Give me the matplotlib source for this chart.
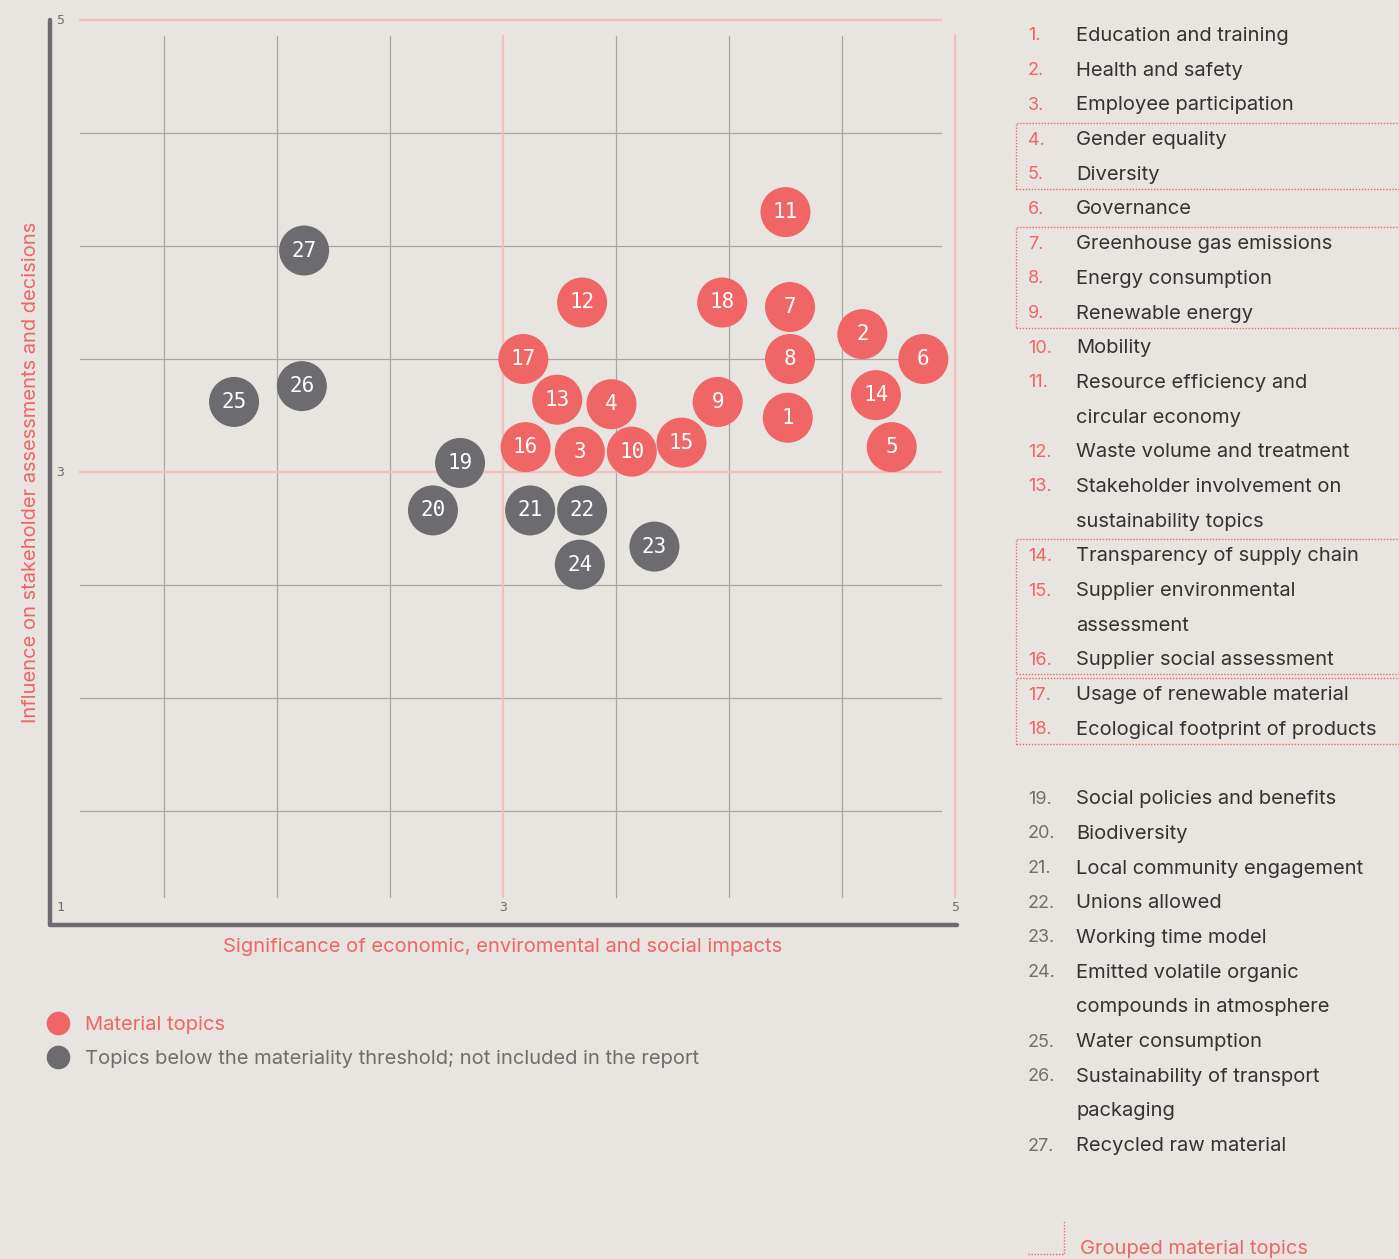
import matplotlib.pyplot as plt
from matplotlib.lines import Line2D
from matplotlib.patches import Rectangle

# topic data
ids = [1, 2, 3, 4, 5, 6, 7, 8, 9, 10, 11, 12, 13, 14, 15, 16, 17, 18,
       19, 20, 21, 22, 23, 24, 25, 26, 27]
significance = [4.26, 4.59, 3.34, 3.48, 4.72, 4.86, 4.27, 4.27, 3.95, 3.57, 4.25, 3.35, 3.24, 4.65, 3.79, 3.10, 3.09, 3.97,
                2.81, 2.69, 3.12, 3.35, 3.67, 3.34, 1.81, 2.11, 2.12]
influence = [3.24, 3.61, 3.09, 3.30, 3.11, 3.50, 3.73, 3.50, 3.31, 3.09, 4.15, 3.75, 3.32, 3.34, 3.13, 3.11, 3.50, 3.75,
             3.04, 2.83, 2.83, 2.83, 2.67, 2.59, 3.31, 3.38, 3.98]
material = [True] * 18 + [False] * 9

topics = ["Education and training", "Health and safety", "Employee participation", "Gender equality",
          "Diversity", "Governance", "Greenhouse gas emissions", "Energy consumption", "Renewable energy",
          "Mobility", "Resource efficiency and\ncircular economy", "Waste volume and treatment",
          "Stakeholder involvement on\nsustainability topics", "Transparency of supply chain",
          "Supplier environmental\nassessment", "Supplier social assessment", "Usage of renewable material",
          "Ecological footprint of products", "Social policies and benefits", "Biodiversity",
          "Local community engagement", "Unions allowed", "Working time model",
          "Emitted volatile organic\ncompounds in atmosphere", "Water consumption",
          "Sustainability of transport\npackaging", "Recycled raw material"]
groups = [(4, 5), (7, 9), (14, 16), (17, 18)]

BG = '#E8E4DF'
RED = '#F06565'
GREY = '#6C6C70'
PINK = '#F6BDBD'
GRID = '#A9A7A4'
TEXT = '#333333'
SANS = ['Inter', 'DejaVu Sans']
MONO = ['DejaVu Sans Mono']
FS = 14.5

W, H = 1399, 1259
fig = plt.figure(figsize=(W / 100, H / 100), dpi=100, facecolor=BG)

def fx(x): return x / W
def fy(y): return 1 - y / H

ax = fig.add_axes([fx(51), fy(924), (955 - 51) / W, (924 - 20) / H])
ax.set_facecolor(BG)
ax.set_xlim(1, 5)
ax.set_ylim(1, 5)
ax.axis('off')

# grid
for v in [1.5, 2, 2.5, 3.5, 4, 4.5]:
    ax.plot([v, v], [1.12, 4.93], color=GRID, lw=0.9, zorder=1)
    ax.plot([1.13, 4.94], [v, v], color=GRID, lw=0.9, zorder=1)
for v in [3, 5]:
    ax.plot([v, v], [1.12, 4.93], color=PINK, lw=1.6, zorder=1.5, clip_on=False)
    ax.plot([1.13, 4.94], [v, v], color=PINK, lw=1.6, zorder=1.5, clip_on=False)

# L-shaped axis
ax.plot([0.996, 0.996, 5.01], [5.0, 0.996, 0.996], color=GREY, lw=3.2,
        solid_joinstyle='round', solid_capstyle='round', clip_on=False, zorder=2)

# tick labels
tick_kw = dict(fontsize=9.5, color='#707070', family=MONO, va='center', ha='center')
ax.text(1.04, 5.0, '5', **tick_kw)
ax.text(1.04, 3.0, '3', **tick_kw)
ax.text(1.04, 1.075, '1', **tick_kw)
ax.text(3.0, 1.075, '3', **tick_kw)
ax.text(5.0, 1.075, '5', **tick_kw)

ax.text(0.91, 3.0, 'Influence on stakeholder assessments and decisions', rotation=90,
        color=RED, fontsize=FS, family=SANS, va='center', ha='center')
ax.text(3.0, 0.9, 'Significance of economic, enviromental and social impacts',
        color=RED, fontsize=FS, family=SANS, va='center', ha='center')

# topic bubbles
colors = [RED if m else GREY for m in material]
ax.scatter(significance, influence, s=1296, c=colors, edgecolors='none', zorder=3, clip_on=False)
for i, sx, sy in zip(ids, significance, influence):
    ax.text(sx, sy, str(i), color='white', fontsize=15, family=MONO,
            ha='center', va='center', zorder=4)

# bottom-left legend
handles = [Line2D([], [], marker='o', ls='none', color=RED, markersize=16),
           Line2D([], [], marker='o', ls='none', color=GREY, markersize=16)]
leg = fig.legend(handles, ['Material topics',
                           'Topics below the materiality threshold; not included in the report'],
                 loc='upper left', bbox_to_anchor=(fx(40), fy(1008)), frameon=False,
                 prop={'family': SANS, 'size': FS}, handletextpad=0.85, labelspacing=0.78,
                 handlelength=1.0, borderaxespad=0)
leg.get_texts()[0].set_color(RED)
leg.get_texts()[1].set_color('#6E6E6E')

# topic list on the right
step = 34.69
row = 0
row_of = {}
for i, name in zip(ids, topics):
    if i == 19:
        row += 1
    y = 34 + row * step
    row_of[i] = y
    fig.text(fx(1028), fy(y + 6.5), f'{i}.', color=RED if i <= 18 else '#707070',
             fontsize=13, family=SANS, va='baseline')
    for k, line in enumerate(name.split('\n')):
        fig.text(fx(1076), fy(y + k * step + 7), line, color=TEXT, fontsize=FS,
                 family=SANS, va='baseline')
        row += 1

for a, b in groups:
    top = row_of[a] - 15
    bottom = row_of[b] + 16 + topics[b - 1].count('\n') * step
    fig.add_artist(Rectangle((fx(1016), fy(bottom)), fx(420), (bottom - top) / H,
                             transform=fig.transFigure, fill=False, edgecolor=RED,
                             lw=1.0, ls=(0, (1, 1.2)), clip_on=False))

fig.add_artist(Line2D([fx(1028), fx(1064), fx(1064)], [fy(1254), fy(1254), fy(1220)],
                      transform=fig.transFigure, color=RED, lw=1.0, ls=(0, (1, 1.2))))
fig.text(fx(1080), fy(1254), 'Grouped material topics', color=RED, fontsize=FS,
         family=SANS, va='baseline')

fig.savefig('out.png', dpi=100, facecolor=BG)
